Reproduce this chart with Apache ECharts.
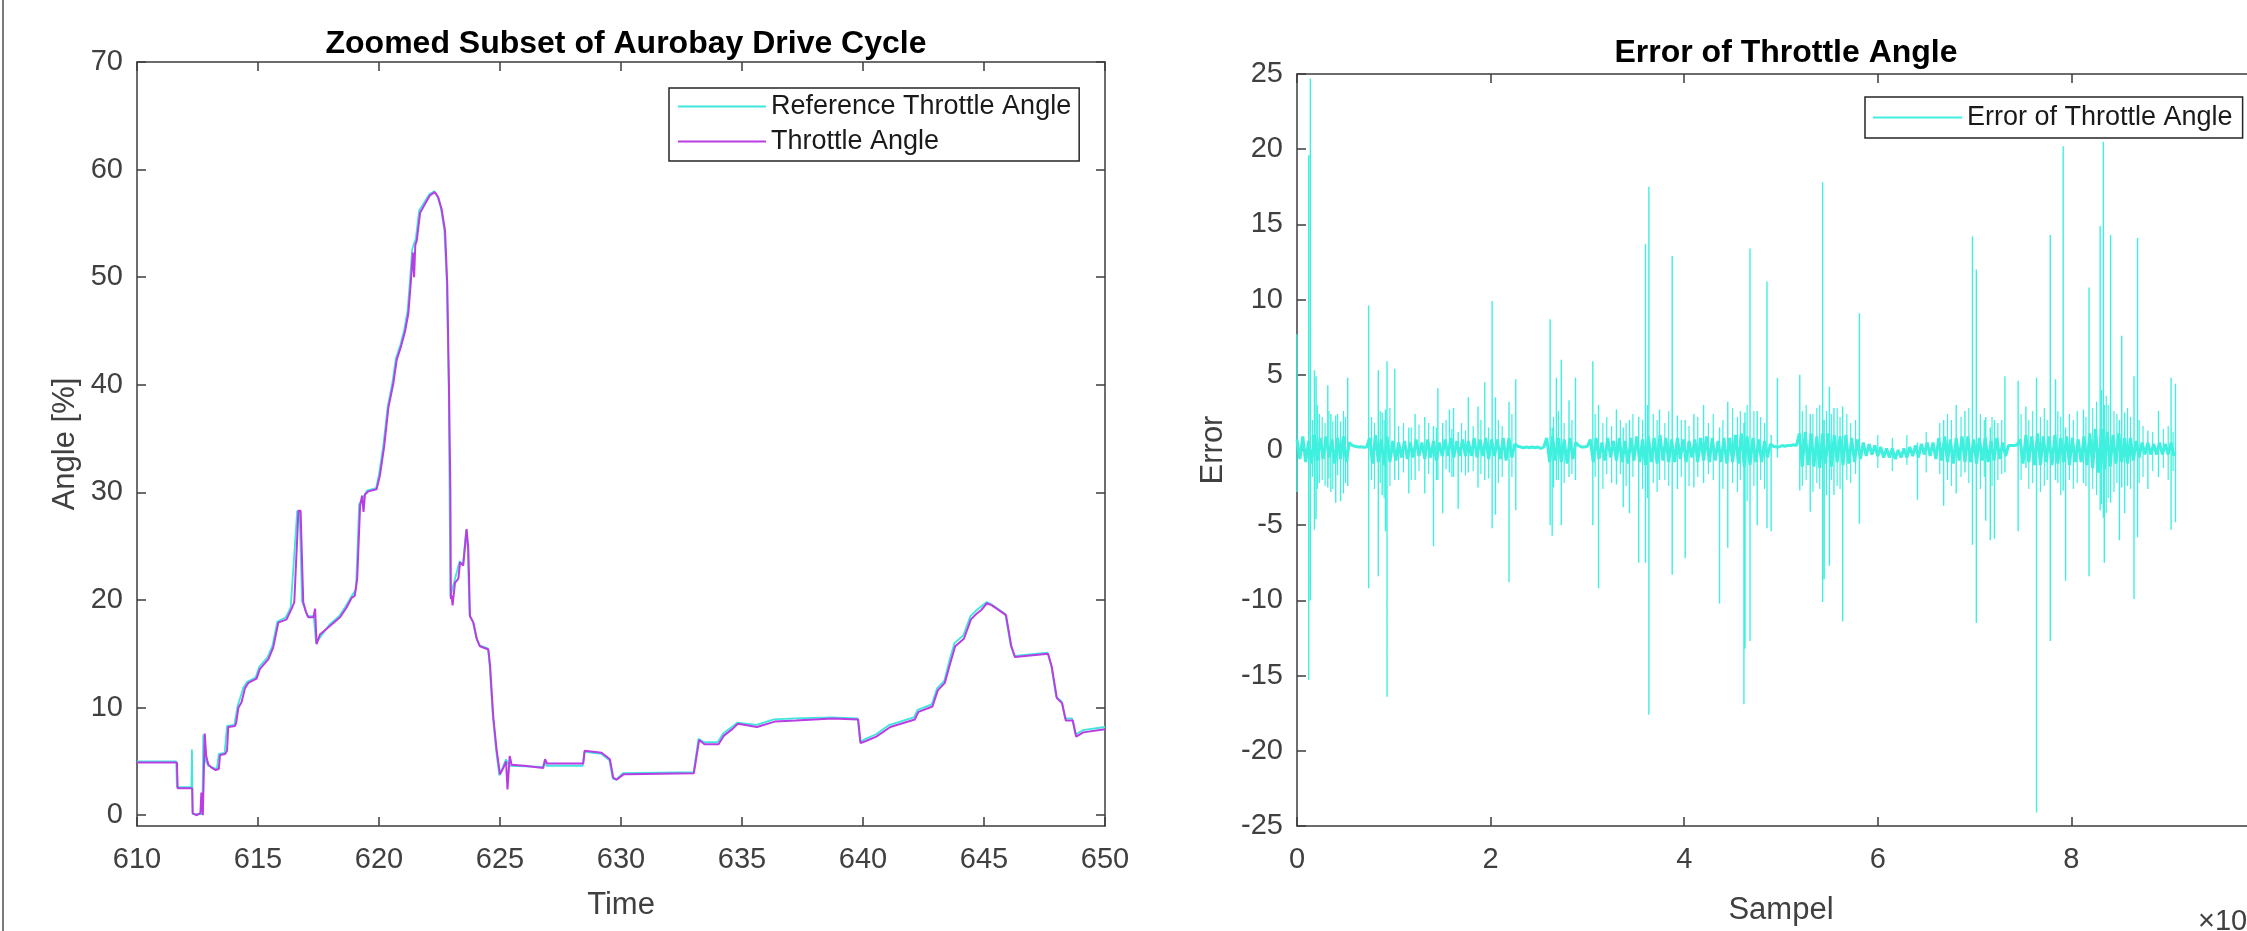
<!DOCTYPE html>
<html>
<head>
<meta charset="utf-8">
<title>Throttle angle</title>
<script src="https://cdn.jsdelivr.net/npm/echarts@6/dist/echarts.min.js"></script>
<style>
  html, body { margin: 0; padding: 0; background: #fff; overflow: hidden; }
  /* the right-hand axes run past the window edge, so the canvas is a bit wider than the view */
  #chart { width: 2300px; height: 931px; }
</style>
</head>
<body>
<div id="chart"></div>
<script>
// ---------- Zoomed window of the drive cycle (time in s, angle in %) ----------
const refTime = [610.0, 611.62, 611.65, 612.25, 612.27, 612.30, 612.70, 612.74, 612.85, 612.95,
  613.3, 613.38, 613.62, 613.72, 614.02, 614.15, 614.40, 614.55, 614.90, 615.05,
  615.40, 615.60, 615.80, 616.15, 616.35, 616.62, 616.72, 616.82, 617.05, 617.30,
  617.40, 617.95, 618.35, 618.62, 618.85, 619.05, 619.18, 619.52, 619.88, 620.0,
  620.18, 620.36, 620.56, 620.70, 620.88, 621.04, 621.18, 621.28, 621.37, 621.52,
  621.66, 621.88, 622.08, 622.28, 622.42, 622.56, 622.70, 622.80, 622.88, 622.95,
  623.12, 623.33, 623.47, 623.60, 623.67, 623.74, 623.88, 624.02, 624.15, 624.50,
  624.57, 624.70, 624.84, 624.97, 625.12, 625.25, 625.38, 626.77, 626.84, 626.92,
  628.42, 628.48, 629.18, 629.52, 629.66, 629.80, 630.08, 633.0, 633.2, 633.42,
  634.0, 634.22, 634.58, 634.80, 635.6, 636.32, 637.2, 638.7, 639.78, 639.88,
  640.1, 640.52, 641.1, 642.1, 642.26, 642.84, 643.06, 643.36, 643.56, 643.78,
  644.14, 644.44, 644.66, 644.88, 645.1, 645.3, 645.88, 646.1, 646.26, 647.62,
  647.78, 647.98, 648.2, 648.35, 648.64, 648.78, 649.08, 650.0];
const refAngle = [5.0, 5.0, 2.6, 2.6, 6.1, 0.1, 0.1, 7.5, 5.0, 4.6,
  4.3, 5.7, 5.8, 8.3, 8.4, 10.1, 11.9, 12.4, 12.8, 13.8,
  14.7, 15.8, 18.0, 18.4, 19.3, 28.3, 28.2, 19.9, 18.5, 18.5,
  16.0, 17.7, 18.5, 19.4, 20.3, 21.0, 28.9, 30.2, 30.4, 31.7,
  34.4, 38.0, 40.3, 42.5, 43.7, 45.1, 46.9, 49.7, 52.6, 53.6,
  56.2, 57.0, 57.7, 58.0, 57.5, 56.4, 54.4, 49.6, 40.0, 20.3,
  21.8, 23.6, 23.3, 26.5, 24.7, 18.6, 18.0, 16.5, 15.8, 15.5,
  14.0, 9.3, 6.0, 3.7, 4.5, 5.2, 4.6, 4.5, 5.0, 4.6,
  4.6, 5.9, 5.7, 5.1, 3.4, 3.3, 3.9, 4.0, 7.1, 6.8,
  6.8, 7.6, 8.2, 8.6, 8.4, 8.9, 9.0, 9.1, 9.0, 6.8,
  7.1, 7.5, 8.4, 9.1, 9.8, 10.3, 11.8, 12.5, 14.3, 16.0,
  16.7, 18.5, 19.0, 19.4, 19.8, 19.6, 18.7, 15.8, 14.8, 15.1,
  13.9, 11.0, 10.6, 9.0, 9.0, 7.5, 7.9, 8.2];

const thrTime = [610.0, 611.0, 611.65, 611.68, 612.28, 612.30, 612.45, 612.62, 612.66, 612.72,
  612.80, 612.86, 612.95, 613.1, 613.25, 613.38, 613.43, 613.64, 613.72, 613.77,
  614.05, 614.1, 614.19, 614.32, 614.40, 614.46, 614.6, 614.94, 615.08, 615.43,
  615.63, 615.84, 616.18, 616.39, 616.5, 616.67, 616.76, 616.87, 616.98, 617.08,
  617.29, 617.36, 617.42, 617.56, 617.98, 618.39, 618.66, 618.87, 619.0, 619.1,
  619.22, 619.30, 619.36, 619.42, 619.56, 619.9, 620.04, 620.21, 620.39, 620.59,
  620.73, 620.9, 621.07, 621.21, 621.31, 621.40, 621.45, 621.50, 621.56, 621.70,
  621.90, 622.10, 622.31, 622.45, 622.59, 622.73, 622.82, 622.89, 622.95, 622.97,
  623.0, 623.04, 623.14, 623.28, 623.35, 623.48, 623.62, 623.69, 623.76, 623.90,
  624.04, 624.17, 624.52, 624.59, 624.72, 624.86, 625.0, 625.14, 625.25, 625.31,
  625.40, 625.48, 626.0, 626.79, 626.86, 626.95, 628.44, 628.5, 629.2, 629.54,
  629.68, 629.82, 630.1, 630.26, 633.01, 633.09, 633.23, 633.45, 634.03, 634.25,
  634.6, 634.83, 635.62, 636.35, 637.22, 638.74, 639.8, 639.9, 640.12, 640.55,
  641.13, 642.14, 642.29, 642.87, 643.09, 643.38, 643.59, 643.81, 644.17, 644.46,
  644.68, 644.9, 645.12, 645.33, 645.91, 646.13, 646.28, 647.65, 647.8, 648.01,
  648.23, 648.38, 648.67, 648.81, 649.1, 650.0];
const thrAngle = [4.9, 4.9, 4.9, 2.5, 2.5, 0.2, 0.0, 0.2, 2.1, 0.0,
  7.6, 5.5, 4.7, 4.4, 4.2, 4.3, 5.6, 5.7, 6.0, 8.2,
  8.3, 8.6, 10.0, 10.5, 10.6, 11.8, 12.3, 12.7, 13.6, 14.5,
  15.6, 17.9, 18.2, 19.2, 19.8, 28.3, 28.3, 19.8, 18.9, 18.4,
  18.4, 19.2, 15.9, 16.8, 17.6, 18.4, 19.3, 20.2, 20.4, 22.0,
  28.8, 29.7, 28.2, 29.8, 30.1, 30.3, 31.6, 34.2, 37.9, 40.1,
  42.3, 43.5, 44.9, 46.6, 49.4, 52.3, 50.0, 53.0, 53.4, 56.0,
  56.8, 57.6, 57.9, 57.4, 56.3, 54.3, 49.4, 40.1, 30.0, 20.1,
  20.4, 19.5, 21.6, 22.0, 23.5, 23.2, 26.6, 24.8, 18.5, 17.9,
  16.4, 15.7, 15.4, 13.9, 9.2, 6.1, 3.8, 4.4, 5.0, 2.4,
  5.5, 4.7, 4.6, 4.4, 5.2, 4.8, 4.8, 6.0, 5.8, 5.2,
  3.5, 3.3, 3.8, 3.8, 3.9, 3.9, 7.0, 6.6, 6.6, 7.4,
  8.0, 8.5, 8.2, 8.7, 8.8, 9.0, 8.9, 6.7, 6.9, 7.3,
  8.2, 8.9, 9.6, 10.1, 11.6, 12.3, 14.0, 15.7, 16.4, 18.2,
  18.7, 19.1, 19.7, 19.5, 18.6, 15.7, 14.7, 15.0, 13.8, 10.9,
  10.4, 8.8, 8.8, 7.3, 7.7, 8.0];

const angleTicks = [0, 10, 20, 30, 40, 50, 60, 70];

// ---------- Throttle angle error over the full cycle ----------
// Sample axis is in units of 10^4 samples.
// Core of the error trace: one value every bandStepK, starting at sample 0.
const bandStepK = 0.03;
const errBand = [
  0.7, -0.6, 0.9, -0.8, 0.6, -0.9, 1.0, -0.7, 0.8, -0.6,
  0.9, -0.5, 0.7, -0.9, 0.8, -0.6, 0.9, -0.8, 0.5, 0.3,
  0.25, 0.2, 0.22, 0.18, 0.2, 0.8, -0.9, 1.0, -0.8, 0.7,
  -1.0, 0.9, -0.8, 0.6, -0.7, 0.5, -0.5, 0.6, -0.6, 0.5,
  -0.5, 0.7, -0.4, 0.5, -0.6, 0.7, -0.5, 0.6, -0.7, 0.5,
  -0.4, 0.7, -0.4, 0.8, -0.5, 0.6, -0.4, 0.7, -0.4, 0.6,
  -0.4, 0.8, -0.5, 0.7, -0.4, 0.8, -0.6, 0.7, -0.4, 0.7,
  -0.6, 0.8, -0.7, 0.8, -0.5, 0.4, 0.25, 0.2, 0.15, 0.2,
  0.15, 0.2, 0.15, 0.2, 0.1, 0.2, 0.8, -0.8, 0.9, -0.7,
  0.8, -0.8, 0.7, -0.9, 0.8, -0.6, 0.5, 0.3, 0.2, 0.2,
  0.25, 0.7, -0.8, 0.8, -0.6, 0.5, -0.7, 0.8, -0.5, 0.6,
  -0.7, 0.8, -0.8, 0.6, -0.9, 0.8, -0.7, 0.9, -0.8, 0.7,
  -1.0, 0.9, -0.8, 0.8, -0.9, 1.0, -0.7, 0.8, -0.8, 0.7,
  -0.8, 0.8, -0.6, 0.7, -0.8, 0.6, -0.5, 0.7, -0.8, 0.8,
  -0.7, 0.9, -0.8, 0.8, -0.7, 0.6, -0.8, 0.8, -0.9, 0.8,
  -0.8, 1.0, -0.9, 1.1, -1.1, 0.9, -1.0, 0.8, -0.8, 0.7,
  -0.8, 0.6, -0.5, 0.4, 0.25, 0.2, 0.2, 0.3, 0.25, 0.3,
  0.3, 0.35, 0.3, 1.1, -1.1, 1.2, -1.0, 1.1, -1.1, 0.9,
  -1.2, 1.1, -0.9, 1.1, -1.1, 1.0, -0.8, 0.9, -1.0, 1.0,
  -0.9, 0.8, -0.8, 0.7, -0.6, 0.5, -0.4, 0.4, -0.3, 0.3,
  -0.4, 0.2, -0.5, 0.1, -0.5, 0.1, -0.6, 0.0, -0.5, 0.1,
  -0.5, 0.2, -0.4, 0.3, -0.5, 0.4, -0.3, 0.5, -0.4, 0.5,
  -0.6, 0.8, -0.7, 0.9, -0.8, 0.7, -0.9, 0.8, -0.7, 0.9,
  -0.8, 0.9, -0.8, 0.7, -0.9, 0.8, -0.7, 0.8, -0.8, 0.6,
  -0.7, 0.8, -0.6, 0.5, -0.4, 0.3, 0.3, 0.3, 0.35, 0.7,
  -0.9, 1.0, -0.8, 0.9, -1.0, 1.1, -1.0, 0.9, -0.8, 0.9,
  -1.0, 1.0, -0.9, 0.8, -0.8, 0.9, -1.0, 0.8, -0.8, 0.7,
  -0.8, 0.9, -1.0, 1.1, -1.2, 1.4, -1.5, 1.4, -1.3, 1.2,
  -1.1, 1.0, -0.9, 1.1, -0.8, 0.8, -0.9, 0.8, -0.7, 0.6,
  -0.5, 0.5, -0.3, 0.5, -0.3, 0.4, -0.3, 0.5, -0.3, 0.4,
  -0.3, 0.5, -0.4
];

// Large error spikes: position (10^4 samples), peak and trough
const spikeK = [0.0, 0.121, 0.138, 0.18, 0.197, 0.23, 0.318, 0.35, 0.40, 0.45,
  0.524, 0.74, 0.84, 0.88, 0.914, 0.93, 1.01, 1.155, 1.22, 1.32,
  1.41, 1.455, 1.505, 1.575, 1.617, 1.665, 1.77, 1.87, 1.94, 2.016,
  2.05, 2.19, 2.26, 2.615, 2.636, 2.68, 2.73, 2.81, 2.877, 3.056,
  3.115, 3.30, 3.37, 3.435, 3.53, 3.60, 3.635, 3.745, 3.876, 3.93,
  4.01, 4.10, 4.20, 4.365, 4.45, 4.617, 4.628, 4.68, 4.754, 4.855,
  4.898, 4.963, 5.194, 5.302, 5.43, 5.446, 5.50, 5.547, 5.637, 5.81,
  6.41, 6.68, 6.81, 6.90, 6.978, 7.018, 7.115, 7.162, 7.205, 7.313,
  7.45, 7.53, 7.64, 7.782, 7.836, 7.915, 7.94, 8.124, 8.182, 8.297,
  8.33, 8.34, 8.405, 8.496, 8.52, 8.55, 8.647, 8.683, 8.79, 8.90,
  9.03, 9.075];
const spikeHi = [7.7, 19.6, 24.7, 5.3, 4.9, 2.4, 4.3, 2.4, 2.3, 1.9,
  4.8, 9.6, 5.3, 2.5, 2.7, 5.9, 5.4, 1.5, 2.4, 2.2,
  1.6, 4.1, 1.8, 2.7, 2.8, 1.2, 3.5, 2.9, 4.5, 9.9,
  3.5, 3.2, 4.7, 8.7, 1.5, 4.8, 6.0, 3.3, 4.8, 5.9,
  3.0, 2.7, 1.5, 2.0, 2.2, 13.7, 17.5, 2.7, 12.9, 2.3,
  2.0, 2.4, 3.0, 1.5, 3.2, 1.8, 2.5, 13.4, 2.6, 11.2,
  1.0, 4.8, 5.0, 2.4, 17.8, 2.0, 4.2, 2.8, 2.9, 9.1,
  0.5, 2.0, 3.0, 2.6, 14.2, 12.0, 2.2, 1.5, 2.0, 4.9,
  4.6, 2.9, 4.8, 14.3, 4.7, 20.2, 1.5, 2.7, 10.8, 14.9,
  20.5, 3.0, 14.3, 2.0, 7.6, 2.5, 4.9, 14.1, 1.3, 2.6,
  4.8, 4.4];
const spikeLo = [-2.8, -15.3, -10.0, -5.3, -4.6, -2.2, -2.5, -2.8, -3.5, -3.4,
  -2.4, -9.2, -8.4, -3.0, -5.4, -16.4, -2.0, -2.9, -2.0, -2.9,
  -6.4, -2.0, -4.2, -1.5, -1.8, -3.9, -1.5, -2.5, -2.0, -5.2,
  -4.3, -8.8, -4.0, -5.0, -5.7, -2.0, -5.0, -1.8, -2.0, -5.0,
  -9.2, -2.3, -3.8, -4.2, -7.5, -7.5, -17.6, -2.0, -8.3, -2.6,
  -7.2, -2.5, -2.2, -10.2, -6.5, -16.9, -13.2, -12.7, -5.0, -5.2,
  -5.4, -0.5, -2.7, -4.1, -10.1, -8.6, -7.7, -3.0, -11.4, -4.9,
  -3.3, -3.7, -2.9, -1.5, -6.3, -11.5, -4.7, -6.0, -5.9, -1.5,
  -5.4, -1.2, -24.1, -12.7, -2.0, -2.7, -8.7, -2.2, -8.4, -4.0,
  -4.5, -7.5, -3.5, -6.0, -2.5, -4.2, -9.9, -5.8, -2.6, -1.8,
  -5.3, -4.8];

// Smaller excursions around the core of the trace
const minorK = [0.16, 0.21, 0.26, 0.29, 0.33, 0.37, 0.42, 0.48, 0.50,
  0.77, 0.80, 0.86, 0.90, 0.96, 1.05, 1.10, 1.18, 1.26,
  1.36, 1.44, 1.54, 1.60, 1.70, 1.74, 1.82, 1.90, 1.98, 2.08, 2.12, 2.22,
  2.65, 2.70, 2.76, 2.84,
  3.08, 3.16, 3.20, 3.25, 3.34, 3.40, 3.47, 3.57, 3.62, 3.68, 3.72, 3.80, 3.84,
  3.97, 4.05, 4.14, 4.25, 4.30, 4.40, 4.50, 4.55, 4.58, 4.65, 4.72, 4.79, 4.83,
  5.22, 5.26, 5.33, 5.37, 5.40, 5.47, 5.52, 5.58, 5.61, 5.68, 5.72, 5.77,
  6.00, 6.15, 6.30, 6.50,
  6.64, 6.72, 6.76, 6.86, 6.94, 7.06, 7.10, 7.18, 7.24, 7.28,
  7.48, 7.56, 7.60, 7.68, 7.72, 7.75, 7.86, 7.89, 7.98, 8.02, 8.06, 8.15,
  8.22, 8.26, 8.31, 8.36, 8.38, 8.44, 8.47, 8.58, 8.61, 8.70, 8.74,
  8.84, 8.95, 9.00, 9.05];
const minorHi = [2.0, 3.0, 2.2, 1.8, 2.6, 1.9, 2.4, 2.6, 2.2,
  2.2, 1.8, 2.6, 2.0, 2.8, 1.6, 1.8, 1.5, 1.7,
  1.8, 1.5, 2.0, 1.4, 1.8, 1.3, 1.6, 2.0, 1.5, 2.0, 1.6, 2.4,
  2.2, 2.6, 1.8, 2.0,
  2.4, 1.8, 2.2, 1.6, 2.0, 1.8, 2.4, 2.0, 3.0, 2.4, 2.0, 1.8, 2.6,
  2.0, 1.6, 2.2, 1.8, 2.4, 2.0, 2.8, 2.2, 2.6, 3.0, 2.6, 2.2, 1.8,
  2.6, 3.0, 2.4, 2.8, 3.0, 2.6, 2.4, 2.8, 2.2, 2.4, 1.8, 2.0,
  1.0, 0.8, 1.0, 1.2,
  1.8, 2.4, 2.0, 2.2, 2.8, 2.4, 2.0, 2.2, 1.8, 2.0,
  2.4, 2.0, 2.6, 2.2, 2.8, 2.0, 2.6, 2.2, 2.4, 2.0, 2.6, 2.2,
  2.8, 3.2, 4.0, 3.6, 3.0, 2.6, 2.4, 2.8, 2.2, 2.0, 1.6,
  1.2, 1.4, 1.6, 1.2];
const minorLo = [-1.8, -2.6, -2.0, -2.4, -1.9, -2.6, -1.7, -2.9, -2.2,
  -2.0, -2.6, -2.2, -3.2, -2.4, -2.0, -1.5, -2.0, -1.4,
  -1.6, -2.0, -1.3, -1.8, -1.5, -1.7, -1.4, -1.6, -1.9, -2.2, -1.8, -1.8,
  -2.5, -2.0, -2.2, -1.6,
  -1.8, -2.6, -1.6, -2.2, -1.6, -2.4, -1.8, -2.6, -3.2, -2.2, -2.8, -2.0, -2.4,
  -1.8, -2.4, -1.8, -1.6, -2.0, -2.6, -2.2, -2.8, -2.0, -3.4, -2.4, -2.0, -2.6,
  -2.4, -2.0, -2.8, -2.2, -2.6, -3.0, -2.0, -2.4, -2.6, -2.0, -2.2, -1.6,
  -1.2, -1.4, -1.0, -1.5,
  -1.6, -2.0, -2.4, -1.8, -2.2, -2.6, -1.8, -2.4, -2.0, -1.6,
  -2.0, -2.6, -2.2, -2.8, -2.4, -2.0, -2.2, -3.0, -2.0, -2.6, -2.2, -2.4,
  -2.6, -3.0, -3.6, -4.2, -3.2, -2.8, -2.2, -2.4, -2.6, -2.2, -1.8,
  -1.4, -1.2, -2.0, -1.4];

// ---------- styling ----------
const FONT = "'Liberation Sans', Arial, Helvetica, sans-serif";
const AXIS_COLOR = '#3c3c3c';
const LABEL_COLOR = '#404040';
const REF_COLOR = '#3fe6dc';
const THR_COLOR = '#b93de2';
const ERR_COLOR = '#40f0df';

const lineStyleAxis = { color: AXIS_COLOR, width: 1.5 };

// Boxed axes: labelled bottom/left axes plus bare top/right axes with inward ticks
function xAxisPair(gridIndex, min, max, interval, name, nameGap) {
  const base = {
    type: 'value', gridIndex, min, max, interval,
    axisLine: { show: true, onZero: false, lineStyle: lineStyleAxis },
    axisTick: { show: true, inside: true, length: 9, lineStyle: lineStyleAxis },
    splitLine: { show: false }
  };
  return [
    Object.assign({}, base, {
      position: 'bottom',
      axisLabel: { margin: 19, fontSize: 29, color: LABEL_COLOR, fontFamily: FONT },
      name, nameLocation: 'middle', nameGap,
      nameTextStyle: { fontSize: 31, color: LABEL_COLOR, fontFamily: FONT }
    }),
    Object.assign({}, base, { position: 'top', axisLabel: { show: false } })
  ];
}

function yAxisPair(gridIndex, extra, name, nameGap) {
  const base = Object.assign({
    type: 'value', gridIndex,
    axisLine: { show: true, onZero: false, lineStyle: lineStyleAxis },
    splitLine: { show: false }
  }, extra.base);
  const tick = Object.assign({ show: true, inside: true, length: 9, lineStyle: lineStyleAxis }, extra.tick);
  return [
    Object.assign({}, base, {
      position: 'left',
      axisTick: tick,
      axisLabel: Object.assign({ margin: 14, fontSize: 29, color: LABEL_COLOR, fontFamily: FONT }, extra.label),
      name, nameLocation: 'middle', nameRotate: 90, nameGap,
      nameTextStyle: { fontSize: 31, color: LABEL_COLOR, fontFamily: FONT }
    }),
    Object.assign({}, base, { position: 'right', axisTick: tick, axisLabel: { show: false } })
  ];
}

const xAxes = [
  ...xAxisPair(0, 610, 650, 5, 'Time', 64),
  ...xAxisPair(1, 0, 10, 2, 'Sampel', 69)
];
const yAxes = [
  ...yAxisPair(0, {
    base: { min: -1, max: 70 },
    tick: { customValues: angleTicks },
    label: { customValues: angleTicks }
  }, 'Angle [%]', 56),
  ...yAxisPair(1, { base: { min: -25, max: 25, interval: 5 }, tick: {}, label: {} }, 'Error', 68)
];

// Series data built from the named arrays
const refData = refTime.map((t, i) => [t, refAngle[i]]);
const thrData = thrTime.map((t, i) => [t, thrAngle[i]]);
const bandData = errBand.map((v, i) => [i * bandStepK, v]);
function verticalStrokes(ks, hi, lo) {
  const out = [];
  ks.forEach((k, i) => { out.push([k, hi[i]], [k, lo[i]], [k, null]); });
  return out;
}
const spikeData = verticalStrokes(spikeK, spikeHi, spikeLo);
const minorData = verticalStrokes(minorK, minorHi, minorLo);

const chart = echarts.init(document.getElementById('chart'), null, { renderer: 'canvas' });

const legendCommon = {
  orient: 'vertical', align: 'left', icon: 'rect',
  itemHeight: 2, itemGap: 8,
  borderColor: '#262626', borderWidth: 1.5, borderRadius: 0, backgroundColor: '#fff',
  selectedMode: false,
  textStyle: { fontSize: 27, color: '#1a1a1a', fontFamily: FONT }
};

chart.setOption({
  animation: false,
  backgroundColor: '#ffffff',
  title: [
    {
      text: 'Zoomed Subset of Aurobay Drive Cycle', left: 621, top: 23, textAlign: 'center',
      textStyle: { fontSize: 32, fontWeight: 'bold', color: '#000', fontFamily: FONT }
    },
    {
      text: 'Error of Throttle Angle', left: 1781, top: 32, textAlign: 'center',
      textStyle: { fontSize: 32, fontWeight: 'bold', color: '#000', fontFamily: FONT }
    }
  ],
  grid: [
    { left: 137, top: 62, width: 968, height: 764, containLabel: false },
    { left: 1297, top: 74, width: 968, height: 763, containLabel: false }
  ],
  xAxis: xAxes,
  yAxis: yAxes,
  legend: [
    Object.assign({}, legendCommon, {
      data: ['Reference Throttle Angle', 'Throttle Angle'],
      left: 669, top: 88, itemWidth: 88, padding: [5, 8, 6, 9]
    }),
    Object.assign({}, legendCommon, {
      data: ['Error of Throttle Angle'],
      left: 1865, top: 97, itemWidth: 89, padding: [7, 10, 7, 8]
    })
  ],
  series: [
    {
      name: 'Reference Throttle Angle', type: 'line', xAxisIndex: 0, yAxisIndex: 0,
      data: refData, symbol: 'none', showSymbol: false, z: 2,
      lineStyle: { color: REF_COLOR, width: 1.8 }, itemStyle: { color: REF_COLOR }
    },
    {
      name: 'Throttle Angle', type: 'line', xAxisIndex: 0, yAxisIndex: 0,
      data: thrData, symbol: 'none', showSymbol: false, z: 3,
      lineStyle: { color: THR_COLOR, width: 2 }, itemStyle: { color: THR_COLOR }
    },
    {
      name: 'Error of Throttle Angle', type: 'line', xAxisIndex: 2, yAxisIndex: 2,
      data: bandData, symbol: 'none', showSymbol: false,
      lineStyle: { color: ERR_COLOR, width: 3 }, itemStyle: { color: ERR_COLOR }
    },
    {
      name: 'Error of Throttle Angle', type: 'line', xAxisIndex: 2, yAxisIndex: 2,
      data: minorData, symbol: 'none', showSymbol: false, connectNulls: false,
      lineStyle: { color: ERR_COLOR, width: 1.2 }, itemStyle: { color: ERR_COLOR }
    },
    {
      name: 'Error of Throttle Angle', type: 'line', xAxisIndex: 2, yAxisIndex: 2,
      data: spikeData, symbol: 'none', showSymbol: false, connectNulls: false,
      lineStyle: { color: ERR_COLOR, width: 1.4 }, itemStyle: { color: ERR_COLOR }
    }
  ],
  graphic: [
    {
      // window frame edge on the left
      type: 'line', shape: { x1: 3, y1: 0, x2: 3, y2: 931 },
      style: { stroke: '#7a7a7a', lineWidth: 2 }, silent: true
    },
    {
      // exponent of the sample axis
      type: 'text', x: 2198, y: 922,
      style: {
        text: '×10{sup|4}', fill: LABEL_COLOR, font: '29px ' + FONT,
        verticalAlign: 'middle', align: 'left',
        rich: { sup: { fontSize: 20, fill: LABEL_COLOR, verticalAlign: 'top', fontFamily: FONT } }
      },
      silent: true
    }
  ]
});
</script>
</body>
</html>
